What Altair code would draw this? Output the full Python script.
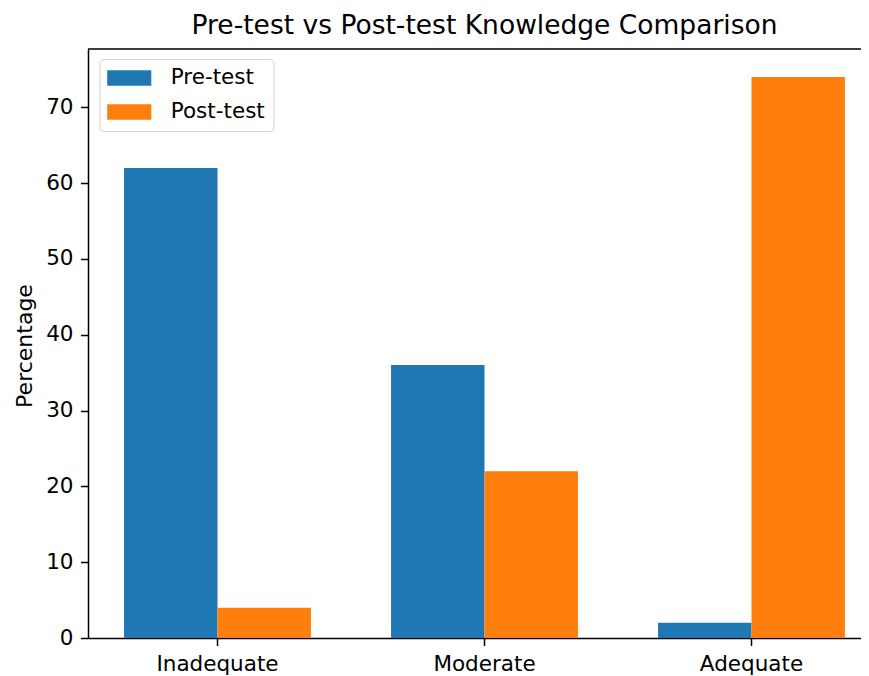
import altair as alt
import pandas as pd

categories = ["Inadequate", "Moderate", "Adequate"]
series = ["Pre-test", "Post-test"]
pre_test = [62, 36, 2]
post_test = [4, 22, 74]
y_ticks = [0, 10, 20, 30, 40, 50, 60, 70]
colors = ["#1f77b4", "#ff7f0e"]

rows = []
for c, a, b in zip(categories, pre_test, post_test):
    rows.append({"category": c, "series": series[0], "value": a})
    rows.append({"category": c, "series": series[1], "value": b})
df = pd.DataFrame(rows)

W, H = 773, 589
FULL_W = 793
FONT = "DejaVu Sans"
FS = 21.5

bars = alt.Chart(df).mark_bar(stroke=None).encode(
    x=alt.X(
        "category:N",
        sort=categories,
        scale=alt.Scale(range=[0, FULL_W], paddingInner=0.3, paddingOuter=0.135),
        axis=alt.Axis(
            title=None, labelAngle=0, labelFont=FONT, labelFontSize=FS,
            labelColor="black", labelBaseline="alphabetic", labelPadding=25,
            tickSize=7.5, tickColor="black", tickWidth=1.5,
            domainColor="black", domainWidth=1.5, grid=False,
        ),
    ),
    xOffset=alt.XOffset("series:N", sort=series, scale=alt.Scale(paddingInner=0, paddingOuter=0)),
    y=alt.Y(
        "value:Q",
        scale=alt.Scale(domain=[0, 77.7], nice=False, zero=True),
        axis=alt.Axis(
            values=y_ticks, title="Percentage", titleFont=FONT, titleFontSize=22,
            titleFontWeight="normal", titleColor="black",
            titleX=-57, titleY=H / 2 + 2, titleBaseline="alphabetic", titleAngle=-90,
            titleAlign="center",
            labelFont=FONT, labelFontSize=FS, labelColor="black", labelPadding=7.5,
            tickSize=7.5, tickColor="black", tickWidth=1.5,
            domainColor="black", domainWidth=1.5, grid=False,
        ),
    ),
    color=alt.Color(
        "series:N",
        sort=series,
        scale=alt.Scale(domain=series, range=colors),
        legend=alt.Legend(
            title=None, orient="none", legendX=11.5, legendY=10,
            symbolType="M-2.05,-0.73H2.05V0.73H-2.05Z", symbolSize=462.25,
            symbolOffset=10.75,
            symbolStrokeWidth=0, symbolOpacity=1,
            labelFont=FONT, labelFontSize=FS, labelColor="black", labelOffset=30.5,
            rowPadding=12, padding=8,
            fillColor="rgba(255,255,255,0.8)", strokeColor="#d0d0d0",
            cornerRadius=4,
        ),
    ),
)

spine_df = pd.DataFrame({"k": [0]})
top_spine = alt.Chart(spine_df).mark_rule(color="black", strokeWidth=1.5).encode(
    x=alt.value(0), x2=alt.value(W), y=alt.value(0)
)

chart = alt.layer(bars, top_spine).properties(
    width=W,
    height=H,
    autosize=alt.AutoSizeParams(type="none"),
    padding={"left": 80, "top": 41, "right": 0, "bottom": 38},
    title=alt.TitleParams(
        "Pre-test vs Post-test Knowledge Comparison",
        font=FONT, fontSize=26.5, fontWeight="normal", color="black",
        anchor="middle", frame="group", baseline="alphabetic", offset=-12, dx=10,
    ),
).configure_view(stroke=None)

chart.save("out.html", embed_options={"renderer": "svg", "actions": False})
